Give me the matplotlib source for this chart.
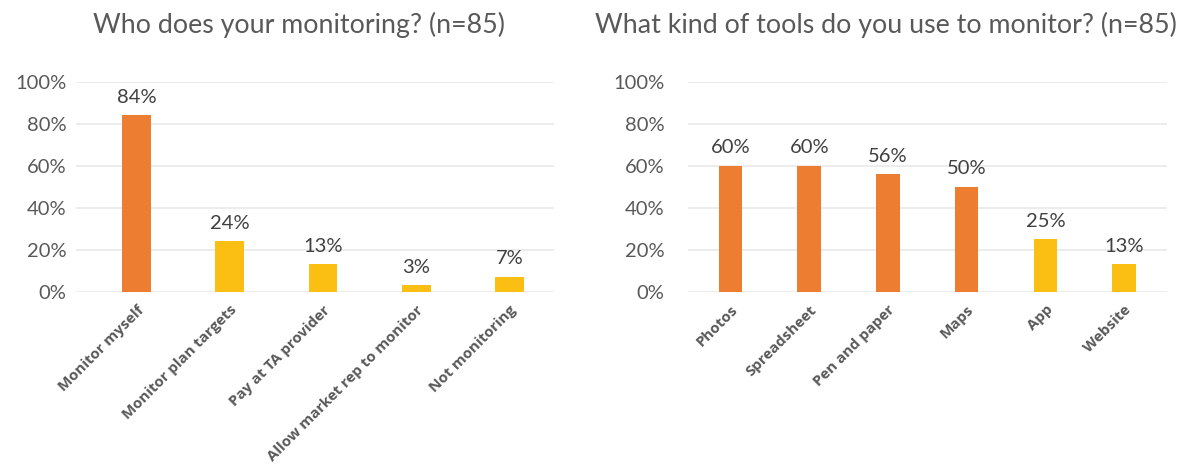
import matplotlib.pyplot as plt
from matplotlib.ticker import PercentFormatter

# survey results, percent of respondents (n=85)
who_labels = ['Monitor myself', 'Monitor plan targets', 'Pay at TA provider',
              'Allow market rep to monitor', 'Not monitoring']
who_values = [84, 24, 13, 3, 7]
who_colors = ['orange', 'yellow', 'yellow', 'yellow', 'yellow']

tool_labels = ['Photos', 'Spreadsheet', 'Pen and paper', 'Maps', 'App', 'Website']
tool_values = [60, 60, 56, 50, 25, 13]
tool_colors = ['orange', 'orange', 'orange', 'orange', 'yellow', 'yellow']

palette = {'orange': '#ED7D31', 'yellow': '#FBBF14'}
grey = '#595959'
dark = '#404040'

plt.rcParams['font.family'] = ['Lato', 'DejaVu Sans']

fig = plt.figure(figsize=(11.79, 4.65), dpi=100)
ax1 = fig.add_axes([0.0645, 0.3727, 0.4054, 0.4516])
ax2 = fig.add_axes([0.5835, 0.3727, 0.4060, 0.4516])


def bar_panel(ax, labels, values, colors, width, xlim, tick_pad):
    x = range(len(labels))
    ax.bar(x, values, width=width, color=[palette[c] for c in colors], zorder=3)
    for xi, v in zip(x, values):
        ax.annotate(f'{v}%', (xi, v), xytext=(0, 9), textcoords='offset points',
                    ha='center', va='baseline', fontsize=14.5, color=dark)
    ax.set_ylim(0, 100)
    ax.set_xlim(*xlim)
    ax.set_yticks(range(0, 101, 20))
    ax.yaxis.set_major_formatter(PercentFormatter(decimals=0))
    ax.set_xticks(list(x))
    ax.set_xticklabels(labels, rotation=45, ha='right', rotation_mode='anchor',
                       fontsize=10.8, fontweight='bold', color=grey,
                       family=['Open Sans', 'DejaVu Sans'])
    ax.tick_params(axis='x', length=0, pad=8)
    ax.tick_params(axis='y', length=0, pad=tick_pad, labelsize=14.5, labelcolor=grey)
    ax.grid(axis='y', color='#EBEBEB', linewidth=1.3, zorder=0)
    for s in ax.spines.values():
        s.set_visible(False)


bar_panel(ax1, who_labels, who_values, who_colors, 0.31, (-0.65, 4.48), 7)
bar_panel(ax2, tool_labels, tool_values, tool_colors, 0.30, (-0.54, 5.54), 17)

fig.text(299 / 1179, 1 - 25 / 465, 'Who does your monitoring? (n=85)',
         ha='center', va='center', fontsize=19.3, color=grey)
fig.text(886 / 1179, 1 - 25 / 465, 'What kind of tools do you use to monitor? (n=85)',
         ha='center', va='center', fontsize=19.3, color=grey)

fig.savefig('out.png', dpi=100, facecolor='white')
